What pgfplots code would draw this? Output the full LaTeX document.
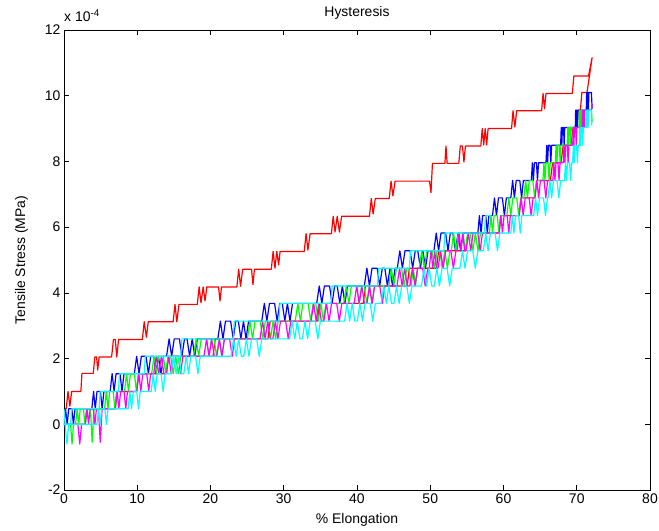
\documentclass[border=0pt]{standalone}
\usepackage{fontspec}
\setmainfont{Liberation Sans}
\usepackage{pgfplots}
\pgfplotsset{compat=1.18}
\definecolor{mred}{rgb}{1,0,0}
\definecolor{mblue}{rgb}{0,0,1}
\definecolor{mgreen}{rgb}{0,1,0}
\definecolor{mmag}{rgb}{1,0,1}
\definecolor{mcyan}{rgb}{0,1,1}
\begin{document}
\begin{tikzpicture}
\begin{axis}[
  scale only axis, width=586bp, height=460bp,
  xmin=0, xmax=80, ymin=-2, ymax=12,
  xtick={0,10,...,80}, ytick={-2,0,...,12},
  tick align=inside, xtick pos=both, ytick pos=both,
  major tick length=5bp,
  axis line style={line width=0.8pt},
  every tick/.style={black, line width=0.6pt},
  /pgf/number format/assume math mode=true,
  ticklabel style={font=\fontsize{14}{16}\selectfont},
  title={Hysteresis},
  title style={font=\fontsize{14}{16}\selectfont, yshift=1bp},
  xlabel={\% Elongation}, ylabel={Tensile Stress (MPa)},
  label style={font=\fontsize{14}{16}\selectfont},
  xlabel style={yshift=-3bp},
  ylabel style={yshift=10bp},
  every axis plot/.append style={line width=1.2pt, mark=none, line join=round},
]
% red: first loading + unloading
\addplot[mred] coordinates {(0.3,0.47)(0.55,1.0)(0.8,0.55)(1.05,1.0)(2.3,1.0)(2.45,1.55)(4.0,1.55)(4.2,2.05)(4.45,2.05)(4.6,1.65)(4.8,2.05)(6.5,2.05)(6.75,2.58)(7.0,2.58)(7.2,2.05)(7.45,2.58)(10.7,2.58)(10.95,3.12)(11.25,2.65)(11.5,3.12)(14.9,3.12)(15.15,3.65)(15.4,3.12)(15.7,3.65)(18.2,3.65)(18.45,4.18)(18.7,3.7)(19.0,4.18)(19.25,3.75)(19.5,4.18)(21.1,4.18)(21.3,3.75)(21.5,4.18)(23.6,4.18)(23.85,4.72)(24.1,4.2)(24.4,4.72)(25.6,4.72)(25.8,4.25)(26.0,4.72)(28.3,4.72)(28.55,5.26)(28.8,4.75)(29.05,5.26)(29.3,4.85)(29.5,5.26)(32.8,5.26)(33.05,5.8)(33.3,5.3)(33.6,5.8)(36.5,5.8)(36.75,6.33)(37.0,5.85)(37.3,6.33)(37.6,5.85)(37.9,6.33)(41.7,6.33)(41.95,6.87)(42.2,6.4)(42.5,6.87)(44.4,6.87)(44.65,7.4)(44.9,6.95)(45.2,7.4)(49.9,7.4)(50.1,7.05)(50.3,7.94)(52.0,7.94)(52.15,8.47)(52.3,7.94)(53.9,7.94)(54.1,8.47)(54.4,8.47)(54.6,7.98)(54.8,8.47)(56.9,8.47)(57.1,9.0)(57.3,8.5)(57.5,9.0)(57.7,8.5)(57.9,9.0)(61.1,9.0)(61.3,9.54)(61.55,9.05)(61.8,9.54)(65.2,9.54)(65.4,10.07)(65.6,9.6)(65.8,10.07)(69.4,10.07)(69.6,10.6)(71.6,10.6)(72.1,11.16)(71.4,10.1)(70.7,10.1)(70.5,9.56)(70.2,9.56)(70.05,9.03)(69.5,9.03)(69.2,8.49)(68.15,8.49)(67.85,7.96)(66.7,7.96)(66.4,7.42)(64.55,7.42)(64.25,6.89)(62.4,6.89)(62.1,6.35)(59.65,6.35)(59.35,5.82)(55.15,5.82)(54.85,5.28)(51.15,5.28)(50.85,4.75)(47.15,4.75)(46.85,4.21)(41.15,4.21)(40.85,3.68)(34.9,3.68)(34.6,3.14)(28.15,3.14)(27.85,2.6)(20.65,2.6)(20.35,2.07)(14.25,2.07)(13.95,1.54)(10.2,1.54)(9.9,1.0)(7.25,1.0)(6.95,0.47)(3.15,0.47)(2.85,0)(0.5,0)};
% blue
\addplot[mblue] coordinates {(0,0)(0.215,0.47)(0.43,0)(0.645,0.47)(1.075,0.47)(1.29,0)(1.505,0.47)
(3.8,0.47)(4.035,1.0)(4.27,0.47)(4.505,1.0)(4.975,1.0)(5.21,0.47)(5.445,1.0)
(6.3,1.0)(6.57,1.54)(6.84,1.0)(7.11,1.54)(7.65,1.54)(7.92,1.0)(8.19,1.54)
(9.6,1.54)(9.92,2.07)(10.24,1.54)(10.56,2.07)(11.2,2.07)(11.52,1.54)(11.84,2.07)
(12.19,2.07)(12.54,1.54)(12.89,2.07)(13.24,1.54)(13.59,2.07)
(14.0,2.07)(14.35,2.6)(14.7,2.07)(15.05,2.6)(15.75,2.6)(16.1,2.07)(16.45,2.6)
(16.8,2.6)(17.15,2.07)(17.5,2.6)(17.85,2.07)(18.2,2.6)
(21.0,2.6)(21.35,3.14)(21.7,2.6)(22.05,3.14)(22.75,3.14)(23.1,2.6)(23.45,3.14)
(23.8,3.14)(24.15,2.6)(24.5,3.14)(24.85,2.6)(25.2,3.14)
(27.0,3.14)(27.35,3.68)(27.7,3.14)(28.05,3.68)(28.75,3.68)(29.1,3.14)(29.45,3.68)
(29.8,3.68)(30.15,3.14)(30.5,3.68)(30.85,3.14)(31.2,3.68)
(34.5,3.68)(34.85,4.21)(35.2,3.68)(35.55,4.21)(36.25,4.21)(36.6,3.68)(36.95,4.21)
(37.3,4.21)(37.65,3.68)(38.0,4.21)(38.35,3.68)(38.7,4.21)
(41.0,4.21)(41.35,4.75)(41.7,4.21)(42.05,4.75)(42.75,4.75)(43.1,4.21)(43.45,4.75)
(43.8,4.75)(44.15,4.21)(44.5,4.75)(44.85,4.21)(45.2,4.75)
(45.5,4.75)(45.85,5.28)(46.2,4.75)(46.55,5.28)(47.25,5.28)(47.6,4.75)(47.95,5.28)
(48.3,5.28)(48.65,4.75)(49.0,5.28)(49.35,4.75)(49.7,5.28)
(50.5,5.28)(50.82,5.82)(51.14,5.28)(51.46,5.82)(52.1,5.82)(52.42,5.28)(52.74,5.82)
(53.09,5.82)(53.44,5.28)(53.79,5.82)(54.14,5.28)(54.49,5.82)
(56.5,5.82)(56.715,6.35)(56.93,5.82)(57.145,6.35)(57.575,6.35)(57.79,5.82)(58.005,6.35)
(58.5,6.35)(58.77,6.89)(59.04,6.35)(59.31,6.89)(59.85,6.89)(60.12,6.35)(60.39,6.89)
(61.0,6.89)(61.245,7.42)(61.49,6.89)(61.735,7.42)(62.225,7.42)(62.47,6.89)(62.715,7.42)
(63.8,7.42)(63.94,7.96)(64.08,7.42)(64.22,7.96)(64.5,7.96)(64.64,7.42)(64.78,7.96)
(65.8,7.96)(65.91,8.49)(66.02,7.96)(66.13,8.49)(66.35,8.49)(66.46,7.96)(66.57,8.49)
(67.8,8.49)(67.88,9.03)(67.96,8.49)(68.04,9.03)(68.2,9.03)(68.28,8.49)(68.36,9.03)
(69.8,9.03)(69.85,9.56)(69.9,9.03)(69.95,9.56)(70.05,9.56)(70.1,9.03)(70.15,9.56)
(71.3,9.56)(71.35,10.1)(71.4,9.56)(71.45,10.1)(71.55,10.1)(71.6,9.56)(71.65,10.1)
(72.0,10.1)(72.1,9.6)};
% green
\addplot[mgreen] coordinates {(0,0)(0.9,0)(1.1,-0.6)(1.3,0)
(1.575,0)(1.79,0.47)(2.005,0)(2.22,0.47)(2.65,0.47)(2.865,0)(3.08,0.47)
(3.6,0.47)(3.85,-0.55)(4.1,0.47)
(5.536,0.47)(5.771,1.0)(6.006,0.47)(6.241,1.0)(6.711,1.0)(6.946,0.47)(7.181,1.0)
(8.264,1.0)(8.534,1.54)(8.804,1.0)(9.074,1.54)(9.614,1.54)(9.884,1.0)(10.154,1.54)
(11.966,1.54)(12.286,2.07)(12.606,1.54)(12.926,2.07)(13.566,2.07)(13.886,1.54)(14.206,2.07)
(14.556,2.07)(14.906,1.54)(15.256,2.07)(15.606,1.54)(15.956,2.07)
(17.69,2.07)(18.04,2.6)(18.39,2.07)(18.74,2.6)(19.44,2.6)(19.79,2.07)(20.14,2.6)
(20.49,2.6)(20.84,2.07)(21.19,2.6)(21.54,2.07)(21.89,2.6)
(25.04,2.6)(25.39,3.14)(25.74,2.6)(26.09,3.14)(26.79,3.14)(27.14,2.6)(27.49,3.14)
(27.84,3.14)(28.19,2.6)(28.54,3.14)(28.89,2.6)(29.24,3.14)
(31.57,3.14)(31.92,3.68)(32.27,3.14)(32.62,3.68)(33.32,3.68)(33.67,3.14)(34.02,3.68)
(34.37,3.68)(34.72,3.14)(35.07,3.68)(35.42,3.14)(35.77,3.68)
(38.19,3.68)(38.54,4.21)(38.89,3.68)(39.24,4.21)(39.94,4.21)(40.29,3.68)(40.64,4.21)
(40.99,4.21)(41.34,3.68)(41.69,4.21)(42.04,3.68)(42.39,4.21)
(44.34,4.21)(44.69,4.75)(45.04,4.21)(45.39,4.75)(46.09,4.75)(46.44,4.21)(46.79,4.75)
(47.09,4.75)(47.39,4.21)(47.69,4.75)(47.99,4.21)(48.29,4.75)
(48.49,4.75)(48.84,5.28)(49.19,4.75)(49.54,5.28)(50.24,5.28)(50.59,4.75)(50.94,5.28)
(51.29,5.28)(51.64,4.75)(51.99,5.28)(52.34,4.75)(52.69,5.28)
(52.87,5.28)(53.19,5.82)(53.51,5.28)(53.83,5.82)(54.47,5.82)(54.79,5.28)(55.11,5.82)
(55.46,5.82)(55.81,5.28)(56.16,5.82)(56.51,5.28)(56.86,5.82)
(58.08,5.82)(58.295,6.35)(58.51,5.82)(58.725,6.35)(59.155,6.35)(59.37,5.82)(59.585,6.35)
(60.46,6.35)(60.73,6.89)(61.0,6.35)(61.27,6.89)(61.81,6.89)(62.08,6.35)(62.35,6.89)
(62.78,6.89)(63.025,7.42)(63.27,6.89)(63.515,7.42)(64.005,7.42)(64.25,6.89)(64.495,7.42)
(65.38,7.42)(65.52,7.96)(65.66,7.42)(65.8,7.96)(66.08,7.96)(66.22,7.42)(66.36,7.96)
(67.07,7.96)(67.18,8.49)(67.29,7.96)(67.4,8.49)(67.62,8.49)(67.73,7.96)(67.84,8.49)
(68.69,8.49)(68.77,9.03)(68.85,8.49)(68.93,9.03)(69.09,9.03)(69.17,8.49)(69.25,9.03)
(70.31,9.03)(70.36,9.56)(70.41,9.03)(70.46,9.56)(70.56,9.56)(70.61,9.03)(70.66,9.56)
(72.0,9.56)(72.1,9.2)};
% magenta
\addplot[mmag] coordinates {(0,0)(1.9,0)(2.15,-0.6)(2.4,0)
(2.925,0)(3.14,0.47)(3.355,0)(3.57,0.47)(4.0,0.47)(4.215,0)(4.43,0.47)
(4.7,0.47)(4.95,-0.55)(5.2,0.47)
(7.024,0.47)(7.259,1.0)(7.494,0.47)(7.729,1.0)(8.199,1.0)(8.434,0.47)(8.669,1.0)
(9.947,1.0)(10.217,1.54)(10.487,1.0)(10.757,1.54)(11.297,1.54)(11.567,1.0)(11.837,1.54)
(12.244,1.54)(12.594,2.07)(12.944,1.54)(13.294,2.07)(13.644,1.54)
(13.994,1.54)(14.314,2.07)(14.634,1.54)(14.954,2.07)(15.594,2.07)(15.914,1.54)(16.234,2.07)
(19.11,2.07)(19.46,2.6)(19.81,2.07)(20.16,2.6)(20.51,2.07)
(20.86,2.07)(21.21,2.6)(21.56,2.07)(21.91,2.6)(22.61,2.6)(22.96,2.07)(23.31,2.6)
(26.76,2.6)(27.11,3.14)(27.46,2.6)(27.81,3.14)(28.16,2.6)
(28.51,2.6)(28.86,3.14)(29.21,2.6)(29.56,3.14)(30.26,3.14)(30.61,2.6)(30.96,3.14)
(33.73,3.14)(34.08,3.68)(34.43,3.14)(34.78,3.68)(35.13,3.14)
(35.48,3.14)(35.83,3.68)(36.18,3.14)(36.53,3.68)(37.23,3.68)(37.58,3.14)(37.93,3.68)
(39.61,3.68)(39.96,4.21)(40.31,3.68)(40.66,4.21)(41.01,3.68)
(41.36,3.68)(41.71,4.21)(42.06,3.68)(42.41,4.21)(43.11,4.21)(43.46,3.68)(43.81,4.21)
(45.46,4.21)(45.81,4.75)(46.16,4.21)(46.51,4.75)(46.86,4.21)
(47.21,4.21)(47.56,4.75)(47.91,4.21)(48.26,4.75)(48.96,4.75)(49.31,4.21)(49.66,4.75)
(49.86,4.75)(50.11,5.28)(50.36,4.75)(50.61,5.28)(50.86,4.75)
(51.06,4.75)(51.41,5.28)(51.76,4.75)(52.11,5.28)(52.81,5.28)(53.16,4.75)(53.51,5.28)
(53.69,5.28)(53.94,5.82)(54.19,5.28)(54.44,5.82)(54.69,5.28)
(54.89,5.28)(55.21,5.82)(55.53,5.28)(55.85,5.82)(56.49,5.82)(56.81,5.28)(57.13,5.82)
(59.43,5.82)(59.645,6.35)(59.86,5.82)(60.075,6.35)(60.505,6.35)(60.72,5.82)(60.935,6.35)
(62.15,6.35)(62.42,6.89)(62.69,6.35)(62.96,6.89)(63.5,6.89)(63.77,6.35)(64.04,6.89)
(64.31,6.89)(64.555,7.42)(64.8,6.89)(65.045,7.42)(65.535,7.42)(65.78,6.89)(66.025,7.42)
(66.74,7.42)(66.88,7.96)(67.02,7.42)(67.16,7.96)(67.44,7.96)(67.58,7.42)(67.72,7.96)
(68.16,7.96)(68.27,8.49)(68.38,7.96)(68.49,8.49)(68.71,8.49)(68.82,7.96)(68.93,8.49)
(69.45,8.49)(69.53,9.03)(69.61,8.49)(69.69,9.03)(69.85,9.03)(69.93,8.49)(70.01,9.03)
(70.74,9.03)(70.79,9.56)(70.84,9.03)(70.89,9.56)(70.99,9.56)(71.04,9.03)(71.09,9.56)
(72.0,9.56)(72.1,9.75)};
% cyan
\addplot[mcyan] coordinates {(0,0.47)(0.15,0)(0.4,-0.6)(0.65,0)
(4.5,0)(4.715,0.47)(4.93,0)(5.145,0.47)(5.575,0.47)(5.79,0)(6.005,0.47)
(8.755,0.47)(8.99,1.0)(9.225,0.47)(9.46,1.0)(9.93,1.0)(10.165,0.47)(10.4,1.0)
(11.91,1.0)(12.18,1.54)(12.45,1.0)(12.72,1.54)(13.26,1.54)(13.53,1.0)(13.8,1.54)
(14.61,1.54)(14.96,2.07)(15.31,1.54)(15.66,2.07)(16.01,1.54)
(16.36,1.54)(16.68,2.07)(17.0,1.54)(17.32,2.07)(17.96,2.07)(18.28,1.54)(18.6,2.07)
(22.8,2.07)(23.15,2.6)(23.5,2.07)(23.85,2.6)(24.2,2.07)
(24.55,2.07)(24.9,2.6)(25.25,2.07)(25.6,2.6)(26.3,2.6)(26.65,2.07)(27.0,2.6)
(30.8,2.6)(31.15,3.14)(31.5,2.6)(31.85,3.14)(32.2,2.6)
(32.55,2.6)(32.9,3.14)(33.25,2.6)(33.6,3.14)(34.3,3.14)(34.65,2.6)(35.0,3.14)
(38.3,3.14)(38.65,3.68)(39.0,3.14)(39.35,3.68)(39.7,3.14)
(40.05,3.14)(40.4,3.68)(40.75,3.14)(41.1,3.68)(41.8,3.68)(42.15,3.14)(42.5,3.68)
(43.3,3.68)(43.65,4.21)(44.0,3.68)(44.35,4.21)(44.7,3.68)
(45.05,3.68)(45.4,4.21)(45.75,3.68)(46.1,4.21)(46.8,4.21)(47.15,3.68)(47.5,4.21)
(48.8,4.21)(49.15,4.75)(49.5,4.21)(49.85,4.75)(50.2,4.21)
(50.55,4.21)(50.9,4.75)(51.25,4.21)(51.6,4.75)(52.3,4.75)(52.65,4.21)(53.0,4.75)
(54.05,4.75)(54.4,5.28)(54.75,4.75)(55.1,5.28)(55.8,5.28)(56.15,4.75)(56.5,5.28)
(57.26,5.28)(57.58,5.82)(57.9,5.28)(58.22,5.82)(58.86,5.82)(59.18,5.28)(59.5,5.82)
(60.995,5.82)(61.21,6.35)(61.425,5.82)(61.64,6.35)(62.07,6.35)(62.285,5.82)(62.5,6.35)
(64.11,6.35)(64.38,6.89)(64.65,6.35)(64.92,6.89)(65.46,6.89)(65.73,6.35)(66.0,6.89)
(66.085,6.89)(66.33,7.42)(66.575,6.89)(66.82,7.42)(67.31,7.42)(67.555,6.89)(67.8,7.42)
(68.32,7.42)(68.46,7.96)(68.6,7.42)(68.74,7.96)(69.02,7.96)(69.16,7.42)(69.3,7.96)
(69.43,7.96)(69.54,8.49)(69.65,7.96)(69.76,8.49)(69.98,8.49)(70.09,7.96)(70.2,8.49)
(70.34,8.49)(70.42,9.03)(70.5,8.49)(70.58,9.03)(70.74,9.03)(70.82,8.49)(70.9,9.03)
(71.25,9.03)(71.3,9.56)(71.35,9.03)(71.4,9.56)(71.5,9.56)(71.55,9.03)(71.6,9.56)
(72.0,9.56)(72.05,9.1)};
% cyan, second cycle (upper edges)
\addplot[mcyan] coordinates {(0,0)(0.9,0)(1.05,0.47)(4.79,0.47)(4.94,1.0)(7.43,1.0)(7.58,1.54)(10.95,1.54)(11.1,2.07)(15.95,2.07)(16.1,2.6)(23.1,2.6)(23.25,3.14)(29.33,3.14)(29.48,3.68)(36.45,3.68)(36.6,4.21)(42.8,4.21)(42.95,4.75)(47.15,4.75)(47.3,5.28)(51.85,5.28)(52.0,5.82)(57.4,5.82)(57.55,6.35)(58.3,6.35)};
\end{axis}
\node[anchor=base west, inner sep=0pt, font=\fontsize{14}{16}\selectfont] at ([yshift=8bp]current axis.north west) {x 10\textsuperscript{-4}};
\pgfresetboundingbox
\path ([xshift=-64bp,yshift=-41bp]current axis.south west) rectangle ([xshift=9bp,yshift=30bp]current axis.north east);
\end{tikzpicture}
\end{document}
